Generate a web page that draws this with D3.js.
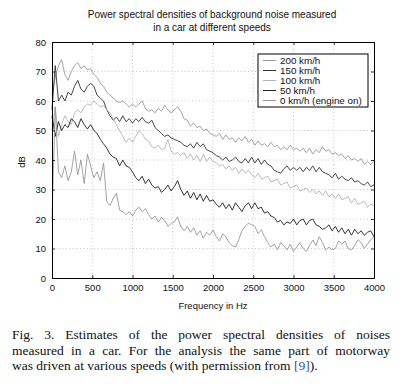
<!DOCTYPE html>
<html><head><meta charset="utf-8">
<script src="https://cdn.jsdelivr.net/npm/d3@7"></script>
<style>
html,body{margin:0;padding:0;background:#fff;}
svg{display:block;}
</style></head>
<body>
<svg id="chart" width="404" height="385"></svg>
<script>
const freqStep = 40;
const frequencies = d3.range(0, 4001, freqStep);
const xTicks = [0, 500, 1000, 1500, 2000, 2500, 3000, 3500, 4000];
const yTicks = [0, 10, 20, 30, 40, 50, 60, 70, 80];
const seriesNames = ["200 km/h", "150 km/h", "100 km/h", "50 km/h", "0 km/h (engine on)"];

const s200 = [62,68,72,74,69,67,70,72,73,71,72,70.5,71,69,68,66,65,63,62,61,
  60,59.5,60,59,58,59,58,59,60,57.5,56.5,57,56,57.5,56.5,58.5,57,56,57,58,
  56.5,54,53.5,51.5,52.5,51,51.5,50,50.5,49,48.5,48,49,47,48.5,47,47.5,46,47.5,46.5,
  48,46,47,45,46.5,45,45.5,44.5,46,44.5,45,43.5,44.5,43.5,45,43.5,44,43,44,42.5,
  44,42,43.5,42.5,44.5,43,43.5,42,42.5,41.5,42,40.5,41.5,40,40.5,39.5,40.5,38.5,39.5,38.5,39.5];

const s150 = [57,72,60,62,60,63,62,65,67,64,63,65,66,65,62,61,60,57,55,53.5,
  54.5,53,55,53,54,52.5,54,53,54.5,53,52.5,53.5,51,50,49,48,48.5,47.5,47,46.5,
  46,45,44.5,45.5,44,46,44.5,45.5,43.5,43,42.5,41.5,41,40,41,39.5,40,41,39.5,39,
  40.5,39,41,39,40.5,38.5,40,38.5,38,36.5,36,35.5,37,38,36.5,37.5,36.5,37.5,36,37.5,
  36.5,38,36,37.5,36,35.5,35,34,35.5,33.5,34.5,33.5,33,34,32.5,33,32,31.5,32.5,31,31.5];

const s100 = [50,58,48,52,55,53,52,56,57,56,58,59,58.5,60,59,58,58.5,57,56,54,
  52,50,48,46,47.5,46,48,50,49,47,46.5,44.5,44,45,43.5,44,47,43,42,42.5,
  41.5,42.5,40.5,42,40,41.5,39.5,42,39.5,41,39.5,39,38,38.5,37,38,36.5,37.5,35.5,37,
  35.5,36.5,35,34,35.5,33.5,34,34.5,32.5,33,33.5,31.5,32,32.5,30.5,31,31.5,29.5,30,30.5,
  29,30,28.5,29.5,28,29.5,27.5,28.5,27,28.5,26.5,27,27.5,25.5,27,25,25.5,26,24,25,24.5];

const s50 = [55,48,53,50,52,51,54,53,51,54,52,50.5,52,50,49,47,45.5,44,42,41,
  40.5,38,40,38,37.5,36,34,33,34.5,32,33.5,31.5,30.5,31,29,30,31.5,29.5,31,33,
  30,28,29.5,27,29,26.5,28.5,26,28,26,26.5,25,24,25.5,23.5,25,23,25.5,24,22.5,
  24.5,25.5,23.5,25.5,23.5,24,22,22.5,21,20.5,19,19.5,18,19,18.5,20,18,19.5,20,18,
  19.5,20,18,17.5,16.5,17,18,16,17.5,15.5,17,15,16.5,14.5,16.5,15,16,14.5,15.5,16,14];

const s0 = [20,58,36,34,38,33,36,43,35,40,32,42,38,34,36,33,39,26,24.5,27,
  28.7,23,22.5,21.5,22.5,21,23,24,22.5,23.5,21.5,20,21,19,20.5,19.5,17.5,18.5,19,20.7,
  17.5,16,17.5,15.5,17,14.5,16,13.5,15.5,14.5,16.3,14,12.5,15,14,12,11,10.5,13,16,
  17.5,18.6,18,17.5,15,16.3,14,12,10.5,11.5,9.5,12,11,9.5,11.5,9,10.5,12,10,9,
  11,12.9,11,14,12,9.5,10.5,9.5,10,12.5,11.5,12.5,10,9.5,11,13,12,10,11.5,13,14];

const seriesValues = [s200, s150, s100, s50, s0];
const seriesColors = ["#9a9a9a", "#333333", "#b4b4b4", "#1e1e1e", "#999999"];

const captionLines = [
  "Fig. 3. Estimates of the power spectral densities of noises",
  "measured in a car. For the analysis the same part of motorway"
];

const svg = d3.select("#chart");
const mLeft = 52, mRight = 374, mTop = 42, mBottom = 278;
const x = d3.scaleLinear().domain([0, 4000]).range([mLeft, mRight]);
const y = d3.scaleLinear().domain([0, 80]).range([mBottom, mTop]);
const sans = "'Liberation Sans', Arial, Helvetica, sans-serif";

// grid
const grid = svg.append("g");
grid.selectAll(".gx").data(xTicks.slice(1, -1)).enter().append("line")
  .attr("x1", d => x(d)).attr("x2", d => x(d)).attr("y1", mTop).attr("y2", mBottom)
  .attr("stroke", "#bbb").attr("stroke-width", 0.8).attr("stroke-dasharray", "1,2.5");
grid.selectAll(".gy").data(yTicks.slice(1, -1)).enter().append("line")
  .attr("x1", mLeft).attr("x2", mRight).attr("y1", d => y(d)).attr("y2", d => y(d))
  .attr("stroke", "#bbb").attr("stroke-width", 0.8).attr("stroke-dasharray", "1,2.5");

// lines
const line = d3.line().x((d, i) => x(frequencies[i])).y(d => y(d));
seriesValues.forEach((vals, k) => {
  svg.append("path").datum(vals).attr("d", line)
    .attr("fill", "none").attr("stroke", seriesColors[k]).attr("stroke-width", 0.9)
    .attr("stroke-linejoin", "round");
});

// axes (ticks inside, on all four sides)
const fmt = d3.format("d");
const axB = svg.append("g").attr("transform", `translate(0,${mBottom})`)
  .call(d3.axisBottom(x).tickValues(xTicks).tickFormat(fmt).tickSizeInner(-3).tickSizeOuter(0).tickPadding(6));
const axT = svg.append("g").attr("transform", `translate(0,${mTop})`)
  .call(d3.axisTop(x).tickValues(xTicks).tickSizeInner(-3).tickSizeOuter(0).tickFormat(""));
const axL = svg.append("g").attr("transform", `translate(${mLeft},0)`)
  .call(d3.axisLeft(y).tickValues(yTicks).tickFormat(fmt).tickSizeInner(-3).tickSizeOuter(0).tickPadding(6));
const axR = svg.append("g").attr("transform", `translate(${mRight},0)`)
  .call(d3.axisRight(y).tickValues(yTicks).tickSizeInner(-3).tickSizeOuter(0).tickFormat(""));
[axB, axT, axL, axR].forEach(a => {
  a.select(".domain").attr("stroke", "#000").attr("stroke-width", 1);
  a.selectAll(".tick line").attr("stroke", "#000").attr("stroke-width", 0.8);
  a.selectAll("text").attr("font-family", sans).attr("font-size", 9.5).attr("fill", "#111");
});

// legend
const lg = svg.append("g");
lg.append("rect").attr("x", 258).attr("y", 54).attr("width", 110).attr("height", 53)
  .attr("fill", "#fff").attr("stroke", "#000").attr("stroke-width", 1);
seriesNames.forEach((name, k) => {
  const yy = 60.5 + k * 10;
  lg.append("line").attr("x1", 263).attr("x2", 276).attr("y1", yy).attr("y2", yy)
    .attr("stroke", seriesColors[k]).attr("stroke-width", 1);
  lg.append("text").attr("x", 280).attr("y", yy + 3.5).text(name)
    .attr("font-family", sans).attr("font-size", 9.8).attr("fill", "#111");
});

// titles
svg.append("text").attr("x", 212).attr("y", 18).attr("text-anchor", "middle")
  .attr("font-family", sans).attr("font-size", 10).attr("fill", "#111")
  .text("Power spectral densities of background noise measured");
svg.append("text").attr("x", 212).attr("y", 31).attr("text-anchor", "middle")
  .attr("font-family", sans).attr("font-size", 10).attr("fill", "#111")
  .text("in a car at different speeds");
svg.append("text").attr("x", 213).attr("y", 309).attr("text-anchor", "middle")
  .attr("font-family", sans).attr("font-size", 9.5).attr("fill", "#111")
  .text("Frequency in Hz");
svg.append("text").attr("transform", "translate(25,162) rotate(-90)").attr("text-anchor", "middle")
  .attr("font-family", sans).attr("font-size", 9.5).attr("fill", "#111")
  .text("dB");

// caption (justified lines)
const serif = "'Liberation Serif', 'Times New Roman', Times, serif";
const capLeft = 12, capRight = 390, capSize = 13.5;
captionLines.forEach((ln, li) => {
  const words = ln.split(" ");
  const yy = 339 + li * 15.5;
  const tmp = svg.append("text").attr("font-family", serif).attr("font-size", capSize);
  const widths = words.map(w => { tmp.text(w); return tmp.node().getComputedTextLength(); });
  tmp.remove();
  const gap = (capRight - capLeft - d3.sum(widths)) / (words.length - 1);
  let cx = capLeft;
  words.forEach((w, i) => {
    svg.append("text").attr("x", cx).attr("y", yy).text(w)
      .attr("font-family", serif).attr("font-size", capSize).attr("fill", "#111");
    cx += widths[i] + gap;
  });
});
const last = svg.append("text").attr("x", capLeft).attr("y", 339 + 2 * 15.5)
  .attr("font-family", serif).attr("font-size", capSize).attr("fill", "#111");
last.append("tspan").text("was driven at various speeds (with permission from ");
last.append("tspan").attr("fill", "#2a4fb0").text("[9]");
last.append("tspan").text(").");
</script>
</body></html>
